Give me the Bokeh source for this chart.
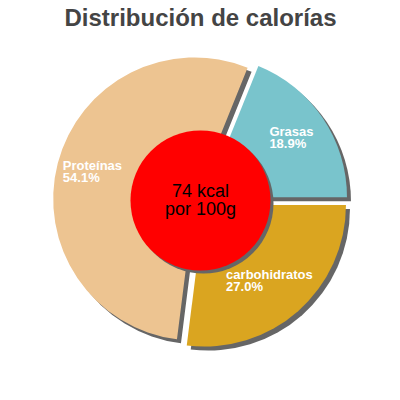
from math import pi, cos, sin

from bokeh.plotting import figure
from bokeh.models import ColumnDataSource, Range1d
from bokeh.core.properties import value
from bokeh.embed import file_html
from bokeh.resources import INLINE

# data
nutrients = ["Grasas", "Proteínas", "carbohidratos"]
percents = [18.9, 54.1, 27.0]
slice_colors = ["#79c4cc", "#edc491", "#daa520"]
kcal = 74
title_text = "Distribución de calorías"

# layout (1 data unit = 1 pixel)
cx, cy = 200, 200
R = 141.5
explode = 6
shadow = 4
label_r = 103
label_size = 13

starts, ends, xs, ys = [], [], [], []
lx, ly_name, ly_pct, pct_text = [], [], [], []
acc = 0.0
for name, pc in zip(nutrients, percents):
    a0 = acc / 100 * 2 * pi
    acc += pc
    a1 = acc / 100 * 2 * pi
    mid = (a0 + a1) / 2
    sx = cx + explode * cos(mid)
    sy = cy + explode * sin(mid)
    starts.append(a0)
    ends.append(a1)
    xs.append(sx)
    ys.append(sy)
    ax = sx + label_r * cos(mid)
    ay = sy + label_r * sin(mid)
    # left aligned block, roughly centred on the anchor
    lx.append(ax - 0.55 * label_size * len(name) / 2)
    ly_name.append(ay + 8)
    ly_pct.append(ay - 4)
    pct_text.append(f"{pc:.1f}%")

src = ColumnDataSource(dict(
    x=xs, y=ys, xs_sh=[v + shadow for v in xs], ys_sh=[v - shadow for v in ys],
    start=starts, end=ends, color=slice_colors,
    lx=lx, ly_name=ly_name, ly_pct=ly_pct, name=nutrients, pct=pct_text,
))

p = figure(width=384, height=384, x_range=Range1d(0, 384), y_range=Range1d(16, 400),
           output_backend="svg", toolbar_location=None, min_border=0,
           background_fill_color="white", border_fill_color="white")
p.outline_line_color = None
p.xaxis.visible = False
p.yaxis.visible = False
p.xgrid.visible = False
p.ygrid.visible = False

# shadows then slices
p.wedge(x="xs_sh", y="ys_sh", radius=R, start_angle="start", end_angle="end",
        source=src, fill_color="#666666", line_color=None)
p.wedge(x="x", y="y", radius=R, start_angle="start", end_angle="end",
        source=src, fill_color="color", line_color=None)

# slice labels
p.text(x="lx", y="ly_name", text="name", source=src, text_color="white",
       text_font=value("Liberation Sans"), text_font_size=f"{label_size}px",
       text_font_style="bold", text_align="left", text_baseline="alphabetic")
p.text(x="lx", y="ly_pct", text="pct", source=src, text_color="white",
       text_font=value("Liberation Sans"), text_font_size=f"{label_size}px",
       text_font_style="bold", text_align="left", text_baseline="alphabetic")

# centre disc
p.circle(x=[cx + 3], y=[cy - 3], radius=70, fill_color="#666666", line_color=None)
p.circle(x=[cx], y=[cy], radius=70, fill_color="#ff0000", line_color=None)
p.text(x=[cx, cx], y=[cy + 10, cy - 8], text=[f"{kcal} kcal", "por 100g"],
       text_color="black", text_font=value("Liberation Sans"), text_font_size="18px",
       text_align="center", text_baseline="alphabetic")

# title
p.text(x=[200], y=[383], text=[title_text], text_color="#444444",
       text_font=value("Liberation Sans"), text_font_size="24px",
       text_font_style="bold", text_align="center", text_baseline="alphabetic")

open("out.html", "w").write(file_html(p, INLINE))
